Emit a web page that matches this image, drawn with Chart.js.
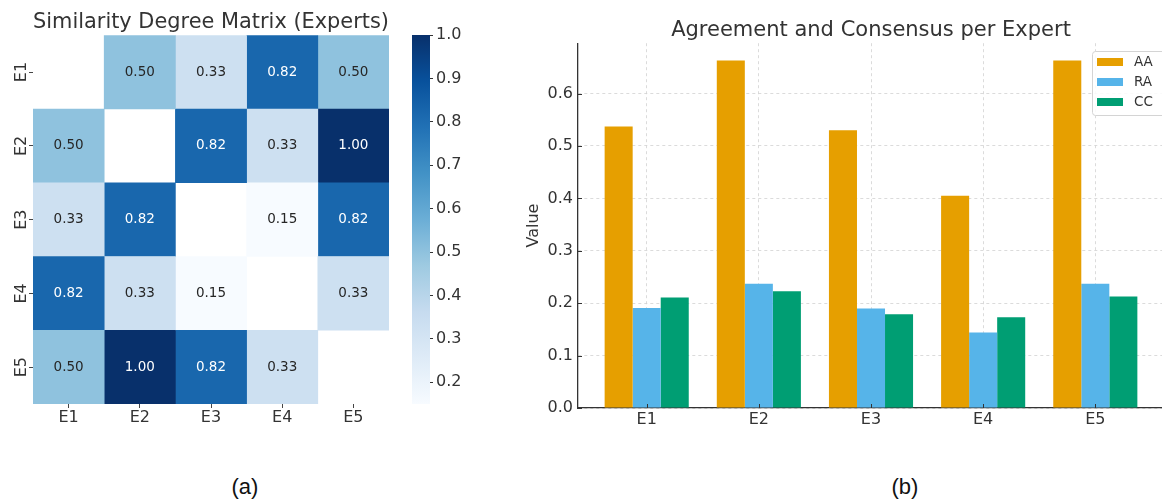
<!DOCTYPE html>
<html>
<head>
<meta charset="utf-8">
<script src="https://cdn.jsdelivr.net/npm/chart.js@4.4.1/dist/chart.umd.min.js"></script>
<style>
  html, body { margin: 0; padding: 0; background: #fff; overflow: hidden; width: 1162px; height: 504px; }
  .panel { position: absolute; top: 0; }
  .caption {
    position: absolute; top: 474px; width: 60px; margin-left: -30px; text-align: center;
    font-family: "Liberation Sans Narrow", "Liberation Sans", Arial, sans-serif;
    font-size: 22px; color: #111;
  }
</style>
</head>
<body>
<div class="panel" style="left:0px"><canvas id="heat" width="400" height="440"></canvas></div>
<div class="panel" style="left:400px"><canvas id="cbar" width="100" height="440"></canvas></div>
<div class="panel" style="left:500px"><canvas id="bars" width="680" height="440"></canvas></div>
<div class="caption" style="left:245px">(a)</div>
<div class="caption" style="left:905px">(b)</div>

<script>
// ---- data ---------------------------------------------------------------
const experts = ['E1', 'E2', 'E3', 'E4', 'E5'];

// pairwise similarity degrees, one row per expert (self-similarity left empty)
const simE1 = [null, 0.50, 0.33, 0.82, 0.50];
const simE2 = [0.50, null, 0.82, 0.33, 1.00];
const simE3 = [0.33, 0.82, null, 0.15, 0.82];
const simE4 = [0.82, 0.33, 0.15, null, 0.33];
const simE5 = [0.50, 1.00, 0.82, 0.33, null];
const colorbarTicks = [0.2, 0.3, 0.4, 0.5, 0.6, 0.7, 0.8, 0.9, 1.0];

// agreement / consensus measures per expert
const agreementAA = [0.537, 0.663, 0.530, 0.405, 0.663];
const agreementRA = [0.191, 0.237, 0.190, 0.144, 0.237];
const consensusCC = [0.211, 0.223, 0.179, 0.173, 0.213];
const valueTicks = [0.0, 0.1, 0.2, 0.3, 0.4, 0.5, 0.6];

// ---- shared styling -----------------------------------------------------
Chart.defaults.font.family = "'DejaVu Sans', sans-serif";
Chart.defaults.color = '#333';

// sequential "Blues" colour map anchors (light -> dark)
const BLUES = [
  [247, 251, 255], [222, 235, 247], [198, 219, 239], [158, 202, 225],
  [107, 174, 214], [66, 146, 198], [33, 113, 181], [8, 81, 156], [8, 48, 107]
];
function blues(t) {
  t = Math.max(0, Math.min(1, t));
  const pos = t * (BLUES.length - 1);
  const k = Math.min(Math.floor(pos), BLUES.length - 2);
  const f = pos - k;
  const c = BLUES[k].map((v, n) => Math.round(v + (BLUES[k + 1][n] - v) * f));
  return `rgb(${c[0]},${c[1]},${c[2]})`;
}

// ---- heatmap ------------------------------------------------------------
const simMatrix = [simE1, simE2, simE3, simE4, simE5];
const simValues = simMatrix.flat().filter(v => v !== null);
const vmin = Math.min(...simValues);
const vmax = Math.max(...simValues);
const normSim = v => (v - vmin) / (vmax - vmin);

const cellLabels = {
  id: 'cellLabels',
  afterDatasetsDraw(chart) {
    const { ctx } = chart;
    ctx.save();
    ctx.font = "13.5px 'DejaVu Sans'";
    ctx.textAlign = 'center';
    ctx.textBaseline = 'middle';
    chart.data.datasets.forEach((ds, j) => {
      chart.getDatasetMeta(j).data.forEach((bar, i) => {
        const v = simMatrix[i][j];
        if (v === null || !bar) return;
        const p = bar.getCenterPoint();
        ctx.fillStyle = normSim(v) > 0.6 ? '#ffffff' : '#262626';
        ctx.fillText(v.toFixed(2), p.x, p.y);
      });
    });
    ctx.restore();
  }
};

new Chart(document.getElementById('heat'), {
  type: 'bar',
  data: {
    labels: experts,
    datasets: experts.map((col, j) => ({
      label: col,
      data: simMatrix.map(row => (row[j] === null ? null : [j - 0.5, j + 0.5])),
      backgroundColor: ctx => {
        const v = simMatrix[ctx.dataIndex][j];
        return v === null ? 'rgba(0,0,0,0)' : blues(normSim(v));
      },
      borderWidth: 0,
      grouped: false,
      categoryPercentage: 1,
      barPercentage: 1
    }))
  },
  options: {
    indexAxis: 'y',
    responsive: false,
    animation: false,
    layout: { padding: { left: 0, right: 11, top: 0, bottom: 0 } },
    plugins: {
      legend: { display: false },
      tooltip: { enabled: false },
      title: {
        display: true,
        fullSize: false,
        text: 'Similarity Degree Matrix (Experts)',
        font: { size: 21, weight: 'normal' },
        color: '#333',
        padding: { top: 10, bottom: 0 }
      }
    },
    scales: {
      x: {
        type: 'linear', min: -0.5, max: 4.5, offset: false,
        afterBuildTicks: s => { s.ticks = experts.map((_, i) => ({ value: i })); },
        afterFit: s => { s.height = 36; },
        ticks: { callback: v => experts[Math.round(v)], font: { size: 16 }, color: '#333', padding: 0, maxRotation: 0, autoSkip: false },
        grid: { drawOnChartArea: false, drawTicks: true, tickLength: 4, tickColor: '#444', offset: false },
        border: { display: false }
      },
      y: {
        type: 'category', offset: true,
        afterFit: s => { s.width = 33; },
        ticks: { font: { size: 16 }, color: '#333', minRotation: 90, maxRotation: 90, crossAlign: 'center', padding: -3 },
        grid: { drawOnChartArea: false, drawTicks: true, tickLength: 4, tickColor: '#444', offset: false },
        border: { display: false }
      }
    }
  },
  plugins: [cellLabels]
});

// ---- colour bar ---------------------------------------------------------
function colorbarFill(context) {
  const { ctx, chartArea, scales } = context.chart;
  if (!chartArea) return blues(0.5);
  const y0 = scales.y.getPixelForValue(vmin);
  const y1 = scales.y.getPixelForValue(vmax);
  const g = ctx.createLinearGradient(0, y0, 0, y1);
  BLUES.forEach((c, k) => g.addColorStop(k / (BLUES.length - 1), `rgb(${c[0]},${c[1]},${c[2]})`));
  return g;
}

new Chart(document.getElementById('cbar'), {
  type: 'bar',
  data: {
    labels: [''],
    datasets: [{
      data: [[vmin, vmax]],
      backgroundColor: colorbarFill,
      borderWidth: 0,
      categoryPercentage: 1,
      barPercentage: 1
    }]
  },
  options: {
    responsive: false,
    animation: false,
    layout: { padding: { left: 12, right: 0, top: 35, bottom: 36 } },
    plugins: { legend: { display: false }, tooltip: { enabled: false } },
    scales: {
      x: { display: false },
      y: {
        position: 'right', min: vmin, max: vmax,
        afterBuildTicks: s => { s.ticks = colorbarTicks.map(v => ({ value: v })); },
        afterFit: s => { s.width = 70; },
        ticks: { callback: v => v.toFixed(1), font: { size: 16 }, color: '#333', padding: 3 },
        grid: { drawOnChartArea: false, drawTicks: true, tickLength: 3, tickColor: '#333' },
        border: { display: false }
      }
    }
  }
});

// ---- grouped bars -------------------------------------------------------
const barSeries = [
  { label: 'AA', values: agreementAA, color: '#E69F00' },
  { label: 'RA', values: agreementRA, color: '#56B4E9' },
  { label: 'CC', values: consensusCC, color: '#009E73' }
];
const yTop = Math.max(...agreementAA, ...agreementRA, ...consensusCC) * 1.05;

// short tick marks pointing into the plot area
const innerTicks = {
  id: 'innerTicks',
  afterDatasetsDraw(chart) {
    const { ctx, chartArea: a, scales: { x, y } } = chart;
    ctx.save();
    ctx.strokeStyle = '#333';
    ctx.lineWidth = 1;
    ctx.beginPath();
    x.ticks.forEach((t, k) => {
      const px = Math.round(x.getPixelForTick(k)) + 0.5;
      ctx.moveTo(px, a.bottom); ctx.lineTo(px, a.bottom - 4);
    });
    y.ticks.forEach((t, k) => {
      const py = Math.round(y.getPixelForTick(k)) + 0.5;
      ctx.moveTo(a.left, py); ctx.lineTo(a.left + 4, py);
    });
    ctx.stroke();
    ctx.restore();
  }
};

// legend box in the upper right of the plot
const legendBox = {
  id: 'legendBox',
  afterDraw(chart) {
    const { ctx } = chart;
    const left = 592, top = 51, rowH = 20, w = 100;
    const items = chart.data.datasets;
    const h = items.length * rowH + 4;
    ctx.save();
    ctx.beginPath();
    ctx.roundRect(left + 0.5, top + 0.5, w, h, 3);
    ctx.fillStyle = 'rgba(255,255,255,0.85)';
    ctx.fill();
    ctx.strokeStyle = '#d4d4d4';
    ctx.lineWidth = 1;
    ctx.stroke();
    ctx.font = "13.5px 'DejaVu Sans'";
    ctx.textBaseline = 'middle';
    ctx.textAlign = 'left';
    items.forEach((ds, k) => {
      const cy = top + 11 + k * rowH;
      ctx.fillStyle = ds.backgroundColor;
      ctx.fillRect(left + 5, cy - 4, 26, 8);
      ctx.fillStyle = '#333';
      ctx.fillText(ds.label, left + 42, cy);
    });
    ctx.restore();
  }
};

new Chart(document.getElementById('bars'), {
  type: 'bar',
  data: {
    datasets: barSeries.map(s => ({
      label: s.label,
      data: s.values.map((v, i) => ({ x: i, y: v })),
      backgroundColor: s.color,
      borderWidth: 0,
      categoryPercentage: 0.75,
      barPercentage: 1
    }))
  },
  options: {
    responsive: false,
    animation: false,
    layout: { padding: { left: 0, right: 16, top: 0, bottom: 0 } },
    plugins: {
      legend: { display: false },
      tooltip: { enabled: false },
      title: {
        display: true,
        fullSize: false,
        text: 'Agreement and Consensus per Expert',
        font: { size: 21, weight: 'normal' },
        color: '#333',
        padding: { top: 18, bottom: 0 }
      }
    },
    scales: {
      x: {
        type: 'linear', min: -0.6125, max: 4.6125, offset: false,
        afterBuildTicks: s => { s.ticks = experts.map((_, i) => ({ value: i })); },
        afterFit: s => { s.height = 32; },
        ticks: { callback: v => experts[Math.round(v)], font: { size: 16 }, color: '#333', padding: 2, maxRotation: 0, autoSkip: false },
        grid: { color: '#d2d2d2', lineWidth: 0.8, drawTicks: false, offset: false },
        border: { display: true, color: '#333', width: 1.3, dash: [3, 3] }
      },
      y: {
        min: 0, max: yTop,
        afterBuildTicks: s => { s.ticks = valueTicks.map(v => ({ value: v })); },
        afterFit: s => { s.width = 78; },
        ticks: { callback: v => v.toFixed(1), font: { size: 16 }, color: '#333', padding: 5 },
        grid: { color: '#d2d2d2', lineWidth: 0.8, drawTicks: false },
        border: { display: true, color: '#333', width: 1.3, dash: [3, 3] },
        title: { display: true, text: 'Value', font: { size: 16 }, color: '#333', padding: { top: 24.4, bottom: 0 } }
      }
    }
  },
  plugins: [innerTicks, legendBox]
});
</script>
</body>
</html>
